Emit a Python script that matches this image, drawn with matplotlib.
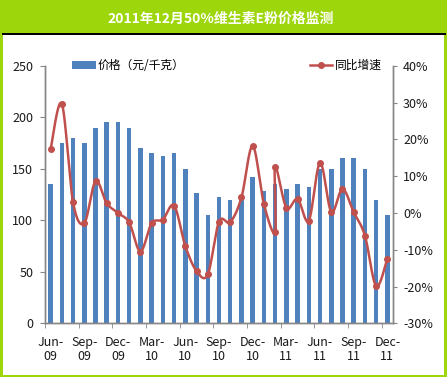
import numpy as np
import matplotlib
matplotlib.use("Agg")
import matplotlib.pyplot as plt
from matplotlib.patches import Rectangle
from matplotlib.lines import Line2D

plt.rcParams['font.family'] = ['Noto Sans CJK SC', 'DejaVu Sans']

# --- 1. data ---
months = ['Jun-09', 'Jul-09', 'Aug-09', 'Sep-09', 'Oct-09', 'Nov-09', 'Dec-09',
          'Jan-10', 'Feb-10', 'Mar-10', 'Apr-10', 'May-10', 'Jun-10', 'Jul-10',
          'Aug-10', 'Sep-10', 'Oct-10', 'Nov-10', 'Dec-10', 'Jan-11', 'Feb-11',
          'Mar-11', 'Apr-11', 'May-11', 'Jun-11', 'Jul-11', 'Aug-11', 'Sep-11',
          'Oct-11', 'Nov-11', 'Dec-11']
price = [135, 175, 180, 175, 190, 195, 195, 190, 170, 165, 162, 165, 150, 126,
         105, 123, 120, 125, 142, 128, 135, 130, 135, 132, 150, 150, 160, 160,
         150, 120, 105]

# yoy line has two points on Feb-11
yoy_months = months[:21] + ['Feb-11'] + months[21:]
yoy = [17.3, 29.6, 2.9, -2.8, 8.6, 2.6, 0.0, -2.6, -10.5, -2.8, -1.8, 2.0,
       -9.0, -15.8, -16.7, -2.4, -2.5, 4.2, 18.2, 2.4, -5.2, 12.5, 1.4, 3.8,
       -2.1, 13.6, 0.3, 6.5, 0.2, -6.2, -19.9, -12.4]

tick_months = ['Jun-09', 'Sep-09', 'Dec-09', 'Mar-10', 'Jun-10', 'Sep-10',
               'Dec-10', 'Mar-11', 'Jun-11', 'Sep-11', 'Dec-11']
tick_labels = ['Jun-\n09', 'Sep-\n09', 'Dec-\n09', 'Mar-\n10', 'Jun-\n10', 'Sep-\n10',
               'Dec-\n10', 'Mar-\n11', 'Jun-\n11', 'Sep-\n11', 'Dec-\n11']

title = '2011年12月50%维生素E粉价格监测'
bar_name = '价格（元/千克）'
line_name = '同比增速'


# --- 2. smoothed line like excel (catmull-rom as bezier) ---
def smooth(xs, ys, n=24):
    p = np.column_stack([xs, ys]).astype(float)
    p = np.vstack([p[0], p, p[-1]])
    out = []
    t = np.linspace(0, 1, n)[:, None]
    for i in range(1, len(p) - 2):
        p0, p1, p2, p3 = p[i - 1], p[i], p[i + 1], p[i + 2]
        c1 = p1 + (p2 - p0) / 6
        c2 = p2 - (p3 - p1) / 6
        seg = ((1 - t) ** 3) * p1 + 3 * ((1 - t) ** 2) * t * c1 + 3 * (1 - t) * t ** 2 * c2 + t ** 3 * p2
        out.append(seg)
    out = np.vstack(out)
    return out[:, 0], out[:, 1]


# --- 3. figure + frame ---
green = '#9DD60A'
grey = '#868686'
W, H = 447, 377
fig = plt.figure(figsize=(4.47, 3.77), dpi=100)
fig.patch.set_facecolor('white')
# green border + title bar
fig.patches.append(Rectangle((0, 0), 1, 1, transform=fig.transFigure,
                             facecolor=green, edgecolor='none', zorder=-3))
fig.patches.append(Rectangle((2.7 / W, 2 / H), (444 - 2.7) / W, (342 - 2) / H,
                             transform=fig.transFigure, facecolor='white', edgecolor='none', zorder=-2))
fig.patches.append(Rectangle((1.7 / W, 1 - 35 / H), (446 - 1.7) / W, 2 / H,
                             transform=fig.transFigure, facecolor='black', edgecolor='none', zorder=-1))
fig.text(221 / W, 1 - 19 / H, title, color='white', fontsize=10, fontweight='bold',
         ha='center', va='center')

ax = fig.add_axes([45 / W, 1 - 323.3 / H, (393 - 45) / W, (323.3 - 65.7) / H])
ax.set_facecolor('none')
ax2 = ax.twinx()

x = np.arange(len(months))
ax.bar(x, price, width=0.4, color='#4F81BD', label=bar_name, zorder=2)

lx = [months.index(m) for m in yoy_months]
sx, sy = smooth(lx, yoy)
ax2.plot(sx, sy, color='#C0504D', lw=1.8, zorder=3)
ax2.plot(lx, yoy, 'o', color='#C0504D', ms=4, zorder=4)

# --- 4. axes ---
ax.set_xlim(-0.5, len(months) - 0.5)
ax.set_ylim(0, 250)
ax.set_yticks([0, 50, 100, 150, 200, 250])
ax2.set_ylim(-30, 40)
ax2.set_yticks(range(-30, 41, 10))
ax2.set_yticklabels([f'{v}%' for v in range(-30, 41, 10)])

ax.set_xticks([months.index(m) for m in tick_months])
ax.set_xticklabels(tick_labels, linespacing=1.1)
ax.set_xticks(np.arange(-0.5, len(months) - 1, 3), minor=True)
ax.tick_params(axis='x', which='major', length=0, pad=9, labelsize=9, colors='#1a1a1a')
ax.tick_params(axis='x', which='minor', length=3.5, color=grey)
ax.tick_params(axis='y', length=3.6, pad=4.8, labelsize=9, color=grey, labelcolor='#1a1a1a')
ax2.tick_params(axis='y', length=3, pad=4.3, labelsize=9, color=grey, labelcolor='#1a1a1a')

for a in (ax, ax2):
    for s in a.spines.values():
        s.set_color(grey)
        s.set_linewidth(1)
    a.spines['top'].set_visible(False)

# --- 5. legends ---
ax.legend(loc='center left', bbox_to_anchor=(72 / W, 1 - 65.7 / H), bbox_transform=fig.transFigure,
          frameon=False, fontsize=8.5, borderpad=0, borderaxespad=0, handlelength=2.0,
          handleheight=0.6, handletextpad=0.2)
h2 = Line2D([], [], color='#C0504D', lw=1.8, marker='o', ms=4)
ax2.legend([h2], [line_name], loc='center left', bbox_to_anchor=(310 / W, 1 - 65.7 / H),
           bbox_transform=fig.transFigure, frameon=False, fontsize=8.5, borderpad=0,
           borderaxespad=0, handlelength=1.9, handletextpad=0.2)

fig.savefig('out.png', dpi=100, facecolor=fig.get_facecolor())
